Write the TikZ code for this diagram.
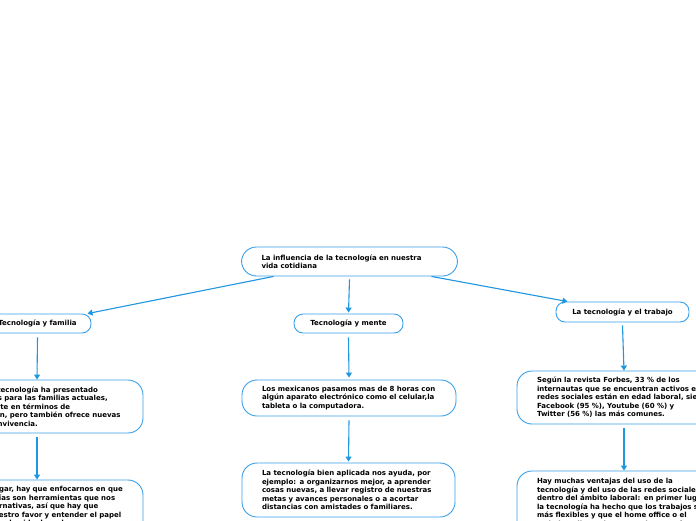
\documentclass[tikz,border=0pt]{standalone}
\usepackage{fontspec}
\setmainfont{DejaVu Sans}
\usetikzlibrary{arrows.meta}
\definecolor{lineblue}{RGB}{30,150,224}
\definecolor{boxblue}{RGB}{58,160,232}
\begin{document}
\begin{tikzpicture}[x=1pt,y=-1pt,
  txtfont/.style={font=\fontsize{7}{8.5}\selectfont\bfseries},
  bigbox/.style={draw=boxblue, line width=0.9pt, rounded corners=15pt, fill=white, txtfont, align=left, inner xsep=20pt, inner ysep=0pt, text width=#1},
  smallbox/.style={draw=boxblue, line width=0.9pt, rounded corners=9pt, fill=white, txtfont, align=center, inner sep=0pt},
  arr/.style={draw=lineblue, line width=1.1pt, -{Triangle[width=6pt,length=5pt]}}
]
\useasboundingbox (0,0) rectangle (696,520);
\clip (0,0) rectangle (696,520);
\fill[white] (0,0) rectangle (696,520);

\node[bigbox=176pt, minimum height=29pt] (root) at (349.5,261.5)
  {La influencia de la tecnología en nuestra\\vida cotidiana};

\node[smallbox, minimum width=107pt, minimum height=19pt] (fam) at (37.5,323.5) {Tecnología y familia};
\node[smallbox, minimum width=109pt, minimum height=19pt] (mente) at (348.5,323.5) {Tecnología y mente};
\node[smallbox, minimum width=133pt, minimum height=20pt] (trab) at (622.5,312) {La tecnología y el trabajo};

\node[bigbox=172pt, minimum height=53pt] (f1) at (37,406.5)
  {\mbox{Sin duda la tecnología ha presentado}\\\mbox{nuevos retos para las familias actuales,}\\\mbox{especialmente en términos de}\\\mbox{comunicación, pero también ofrece nuevas}\\\mbox{forma de convivencia.}};
\node[bigbox=172pt, minimum height=62pt] (f2) at (37,511)
  {\mbox{En primer lugar, hay que enfocarnos en que}\\\mbox{las tecnologías son herramientas que nos}\\\mbox{brindan alternativas, así que hay que}\\\mbox{usarlas a nuestro favor y entender el papel}\\\mbox{que juegan en la vida de cada}\\\mbox{integrante de la familia.}};

\node[bigbox=174pt, minimum height=36pt] (m1) at (349,398)
  {\mbox{Los mexicanos pasamos mas de 8 horas con}\\\mbox{algún aparato electrónico como el celular,la}\\\mbox{tableta o la computadora.}};
\node[bigbox=173pt, minimum height=54pt] (m2) at (348.5,490)
  {\mbox{La tecnología bien aplicada nos ayuda, por}\\\mbox{ejemplo: a organizarnos mejor, a aprender}\\\mbox{cosas nuevas, a llevar registro de nuestras}\\\mbox{metas y avances personales o a acortar}\\\mbox{distancias con amistades o familiares.}};

\node[bigbox=174pt, minimum height=53pt] (r1) at (624,397.5)
  {\mbox{Según la revista Forbes, 33 \% de los}\\\mbox{internautas que se encuentran activos en}\\\mbox{redes sociales están en edad laboral, siendo}\\\mbox{Facebook (95 \%), Youtube (60 \%) y}\\\mbox{Twitter (56 \%) las más comunes.}};
\node[bigbox=174pt, minimum height=71pt] (r2) at (624,506.5)
  {\mbox{Hay muchas ventajas del uso de la}\\\mbox{tecnología y del uso de las redes sociales}\\\mbox{dentro del ámbito laboral: en primer lugar,}\\\mbox{la tecnología ha hecho que los trabajos sean}\\\mbox{más flexibles y que el home office o el}\\\mbox{trabajo a distancia sean cada vez más}\\\mbox{comunes.}};

\draw[arr] ([xshift=-76pt]root.south) -- ([xshift=50pt]fam.north);
\draw[arr] ([yshift=-3pt]root.south) -- ([yshift=1pt]mente.north);
\draw[arr] ([xshift=82pt]root.south) -- ([xshift=-55pt]trab.north);
\draw[arr] ([yshift=-4pt]fam.south) -- (f1.north);
\draw[arr] ([yshift=-4pt]f1.south) -- (f2.north);
\draw[arr] ([yshift=-4pt]mente.south) -- ([yshift=2pt]m1.north);
\draw[arr] ([yshift=-4pt]m1.south) -- ([yshift=1pt]m2.north);
\draw[arr] ([yshift=-3pt]trab.south) -- (r1.north);
\draw[arr] ([yshift=-4pt]r1.south) -- (r2.north);
\end{tikzpicture}
\end{document}
